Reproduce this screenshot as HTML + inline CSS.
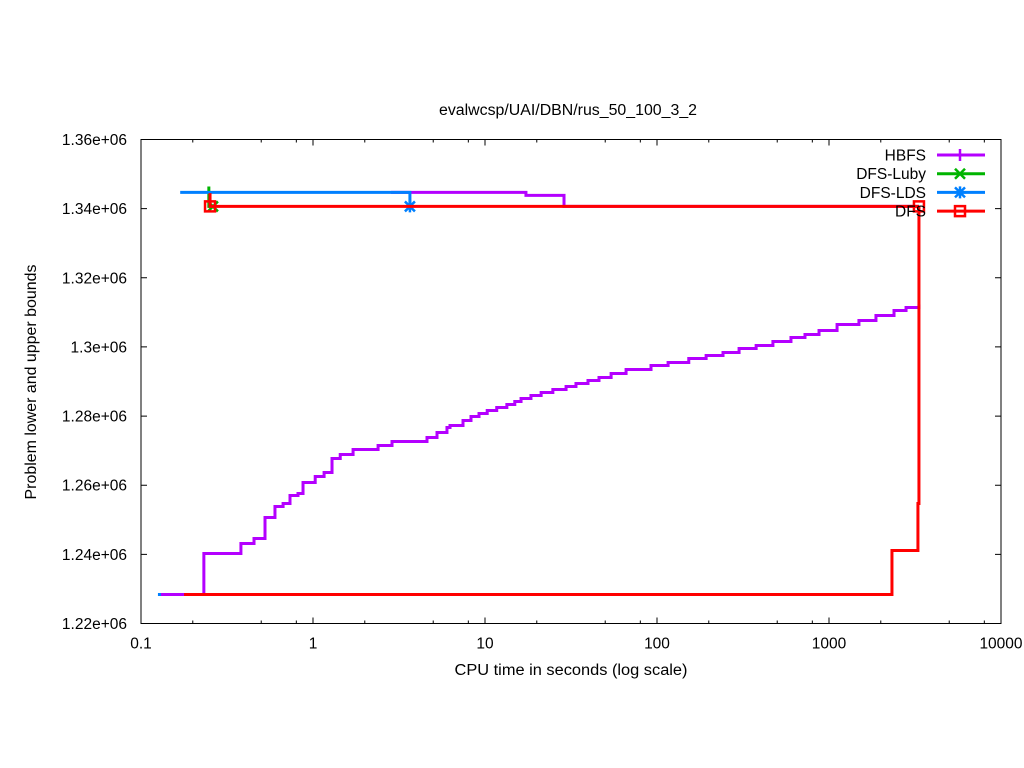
<!DOCTYPE html>
<html><head><meta charset="utf-8"><style>
body{margin:0;background:#fff;}
svg{display:block;font-family:"Liberation Sans",sans-serif;}
</style></head><body>
<svg id="chart" width="1024" height="768" viewBox="0 0 1024 768">
<rect width="1024" height="768" fill="#fff"/>
<text x="568" y="115" font-size="15.5" text-anchor="middle" textLength="258" lengthAdjust="spacingAndGlyphs">evalwcsp/UAI/DBN/rus_50_100_3_2</text>
<text x="571" y="675" font-size="15.5" text-anchor="middle" textLength="233" lengthAdjust="spacingAndGlyphs">CPU time in seconds (log scale)</text>
<text transform="translate(36,382) rotate(-90)" font-size="15.5" text-anchor="middle" textLength="235" lengthAdjust="spacingAndGlyphs">Problem lower and upper bounds</text>
<g id="axes"></g>
<g id="series"></g>
<g id="legend"></g>
</svg>
<script>
const xTicks=[0.1,1,10,100,1000,10000];
const xTickLabels=["0.1","1","10","100","1000","10000"];
const yTicks=[1220000,1240000,1260000,1280000,1300000,1320000,1340000,1360000];
const yTickLabels=["1.22e+06","1.24e+06","1.26e+06","1.28e+06","1.3e+06","1.32e+06","1.34e+06","1.36e+06"];
const seriesNames=["HBFS","DFS-Luby","DFS-LDS","DFS"];
// HBFS lower bound
const hbfsLowT=[0.13,0.232,0.381,0.454,0.526,0.601,0.670,0.735,0.818,0.875,1.03,1.16,1.29,1.44,1.71,2.39,2.88,4.60,5.26,6.01,6.26,7.45,8.29,9.23,10.3,11.7,13.4,14.9,16.2,18.5,21.2,24.8,29.6,33.8,39.7,46.0,54.1,66.1,92.3,116,153,193,242,300,377,472,601,725,875,1114,1493,1875,2388,2805,3334];
const hbfsLowV=[1228390,1240250,1243140,1244590,1250670,1253850,1254720,1257030,1257610,1260790,1262530,1263680,1267730,1268890,1270340,1271500,1272650,1273810,1275260,1276700,1277280,1278730,1279880,1280750,1281620,1282490,1283360,1284220,1285090,1285960,1286830,1287700,1288560,1289430,1290300,1291170,1292330,1293480,1294640,1295510,1296660,1297530,1298400,1299560,1300430,1301580,1302740,1303610,1304760,1306500,1307660,1309100,1310550,1311420,1312290];
// HBFS upper bound
const hbfsUpT=[2.84,17.3,28.8,3334];
const hbfsUpV=[1344690,1343820,1340640,1340640];
// DFS-Luby upper
const lubyUpT=[0.248,0.248,0.262];
const lubyUpV=[1346400,1340640,1340640];
// DFS-LDS upper
const ldsUpT=[0.169,3.66,3.66];
const ldsUpV=[1344690,1344690,1340640];
const ldsLowT=[0.128];
const ldsLowV=[1228390];
// DFS
const dfsUpT=[0.252,0.252,3334];
const dfsUpV=[1344500,1340640,1340640];
const dfsLowT=[0.178,2323,3289,3334,3334];
const dfsLowV=[1228390,1241120,1254720,1256000,1340640];

const L=141,R=1001,T=139.5,B=623.5;
const X=t=>L+(Math.log10(t)+1)*(R-L)/5;
const Y=v=>B-(v-1220000)/140000*(B-T);
const NS="http://www.w3.org/2000/svg";
function mk(tag,attrs,parent){const e=document.createElementNS(NS,tag);for(const k in attrs)e.setAttribute(k,attrs[k]);parent.appendChild(e);return e;}
const axes=document.getElementById('axes'),ser=document.getElementById('series'),leg=document.getElementById('legend');
let d="";
xTicks.forEach((t,i)=>{const x=X(t);d+=`M${x},${B}v-6M${x},${T}v6`;
 const tx=mk('text',{x:x,y:B+25,'font-size':15.5,'text-anchor':'middle'},axes);tx.textContent=xTickLabels[i];
 
 
 if(i<xTicks.length-1)[2,5,8].forEach(m=>{const mx=X(t*m);d+=`M${mx},${B}v-3M${mx},${T}v3`;});});
yTicks.forEach((v,i)=>{const y=Y(v);d+=`M${L},${y}h6M${R},${y}h-6`;
 const tx=mk('text',{x:127,y:y+5.5,'font-size':15.5,'text-anchor':'end'},axes);tx.textContent=yTickLabels[i];
 
 });
const tk=mk('path',{d:d,stroke:'#000','stroke-width':1,fill:'none'},axes);


const fr=mk('rect',{x:L,y:T,width:R-L,height:B-T,fill:'none',stroke:'#000','stroke-width':1},axes);



function steps(ts,vs){let p=`M${X(ts[0])},${Y(vs[0])}`;for(let i=1;i<ts.length;i++){p+=`H${X(ts[i])}V${Y(vs[i])}`;}return p;}
function line(ts,vs,col,name){const e=mk('path',{d:steps(ts,vs),stroke:col,'stroke-width':3,fill:'none'},ser);
 
 }
function marker(kind,x,y,col,parent){let p;
 if(kind==0)p=`M${x-6},${y}h12M${x},${y-6}v12`;
 else if(kind==1)p=`M${x-5},${y-5}l10,10M${x-5},${y+5}l10,-10`;
 else if(kind==2)p=`M${x-6},${y}h12M${x},${y-6}v12M${x-5},${y-5}l10,10M${x-5},${y+5}l10,-10`;
 else p=`M${x-5},${y-5}h10v10h-10z`;
 const e=mk('path',{d:p,stroke:col,'stroke-width':2.5,fill:'none'},parent);
 
 }
const cols=["#b400ff","#00b400","#0080ff","#ff0000"];
line(hbfsLowT,hbfsLowV,cols[0],'hbfs-lower-line');
line(hbfsUpT,hbfsUpV,cols[0],'hbfs-upper-line');
line(lubyUpT,lubyUpV,cols[1],'luby-upper-line');
marker(1,X(lubyUpT[2]),Y(lubyUpV[2]),cols[1],ser);
line(ldsUpT,ldsUpV,cols[2],'lds-upper-line');
marker(2,X(ldsUpT[2]),Y(ldsUpV[2]),cols[2],ser);
const ld=mk('rect',{x:X(ldsLowT[0])-1.5,y:Y(ldsLowV[0])-1.5,width:3,height:3,fill:cols[2]},ser);


line(dfsLowT,dfsLowV,cols[3],'dfs-lower-line');
line(dfsUpT,dfsUpV,cols[3],'dfs-upper-line');
marker(3,X(dfsUpT[1]),Y(dfsUpV[1]),cols[3],ser);
marker(3,X(dfsUpT[2]),Y(dfsUpV[2]),cols[3],ser);

seriesNames.forEach((n,i)=>{const y=155+i*18.7;
 const g=mk('g',{},leg);
 
 
 const tx=mk('text',{x:926,y:y+5.5,'font-size':15.5,'text-anchor':'end'},g);tx.textContent=n;
 const ln=mk('path',{d:`M937,${y}H985`,stroke:cols[i],'stroke-width':3},g);
 marker(i,960,y,cols[i],g);});
</script>
</body></html>
